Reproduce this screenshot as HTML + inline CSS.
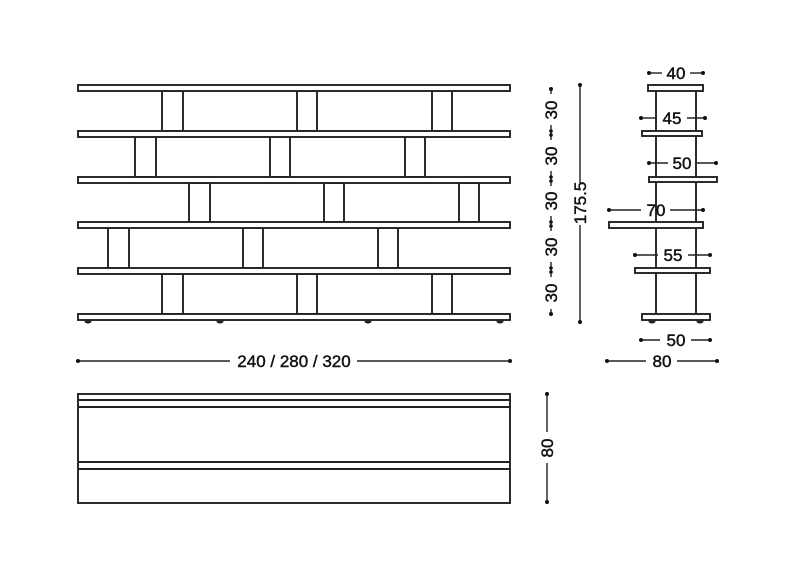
<!DOCTYPE html>
<html><head><meta charset="utf-8"><style>
html,body{margin:0;padding:0;background:#fff;}
svg{display:block;}
text{font-family:"Liberation Sans",Arial,sans-serif;font-size:17px;fill:#111;stroke:#111;stroke-width:0.45;}
</style></head><body>
<svg width="800" height="566" viewBox="0 0 800 566" xmlns="http://www.w3.org/2000/svg">
<g stroke="#222" stroke-width="1.9" fill="#fff">
<g>
<rect x="162" y="91" width="21" height="40"/><rect x="297" y="91" width="20" height="40"/><rect x="432" y="91" width="20" height="40"/>
<rect x="135" y="137" width="21" height="40"/><rect x="270" y="137" width="20" height="40"/><rect x="405" y="137" width="20" height="40"/>
<rect x="189" y="183" width="21" height="39"/><rect x="324" y="183" width="20" height="39"/><rect x="459" y="183" width="20" height="39"/>
<rect x="108" y="228" width="21" height="40"/><rect x="243" y="228" width="20" height="40"/><rect x="378" y="228" width="20" height="40"/>
<rect x="162" y="274" width="21" height="40"/><rect x="297" y="274" width="20" height="40"/><rect x="432" y="274" width="20" height="40"/>
</g>
<rect x="78" y="85" width="432" height="6"/>
<rect x="78" y="131" width="432" height="6"/>
<rect x="78" y="177" width="432" height="6"/>
<rect x="78" y="222" width="432" height="6"/>
<rect x="78" y="268" width="432" height="6"/>
<rect x="78" y="314" width="432" height="6"/>
</g>
<g fill="#222">
<ellipse cx="88" cy="321.5" rx="3.5" ry="2"/><ellipse cx="220" cy="321.5" rx="3.5" ry="2"/><ellipse cx="368" cy="321.5" rx="3.5" ry="2"/><ellipse cx="500" cy="321.5" rx="3.5" ry="2"/>
<ellipse cx="652" cy="321.5" rx="3.5" ry="2"/><ellipse cx="700" cy="321.5" rx="3.5" ry="2"/>
</g>
<g stroke="#222" stroke-width="1.9" fill="#fff">
<line x1="656" y1="91" x2="656" y2="314"/><line x1="696" y1="91" x2="696" y2="314"/>
<rect x="648" y="85" width="55" height="6"/>
<rect x="642" y="131" width="60" height="5"/>
<rect x="649" y="177" width="68" height="5"/>
<rect x="609" y="222" width="94" height="6"/>
<rect x="635" y="268" width="75" height="5"/>
<rect x="642" y="314" width="68" height="6"/>
</g>
<g stroke="#222" stroke-width="1.9" fill="none">
<rect x="78" y="394" width="432" height="109" fill="#fff"/>
<line x1="78" y1="400" x2="510" y2="400"/>
<line x1="78" y1="407" x2="510" y2="407"/>
<line x1="78" y1="462" x2="510" y2="462"/>
<line x1="78" y1="469" x2="510" y2="469"/>
</g>
<g stroke="#222" stroke-width="1.4">
<line x1="78" y1="361" x2="230" y2="361"/><line x1="357" y1="361" x2="510" y2="361"/>
<line x1="649" y1="73" x2="662" y2="73"/><line x1="690" y1="73" x2="703" y2="73"/>
<line x1="641" y1="118" x2="657" y2="118"/><line x1="687" y1="118" x2="705" y2="118"/>
<line x1="649" y1="163" x2="668" y2="163"/><line x1="697" y1="163" x2="716" y2="163"/>
<line x1="609" y1="210" x2="641" y2="210"/><line x1="670" y1="210" x2="703" y2="210"/>
<line x1="635" y1="255" x2="658" y2="255"/><line x1="688" y1="255" x2="710" y2="255"/>
<line x1="641" y1="340" x2="660" y2="340"/><line x1="691" y1="340" x2="710" y2="340"/>
<line x1="607" y1="361" x2="646" y2="361"/><line x1="677" y1="361" x2="717" y2="361"/>
<line x1="580" y1="85" x2="580" y2="183"/><line x1="580" y1="225" x2="580" y2="322"/>
<line x1="547" y1="394" x2="547" y2="432"/><line x1="547" y1="463" x2="547" y2="502"/>
<line x1="551" y1="89" x2="551" y2="94"/><line x1="551" y1="125" x2="551" y2="140"/>
<line x1="551" y1="171" x2="551" y2="186"/><line x1="551" y1="216" x2="551" y2="231"/>
<line x1="551" y1="262" x2="551" y2="277"/><line x1="551" y1="309" x2="551" y2="314"/>
</g>
<g fill="#111">
<circle cx="78" cy="361" r="2"/><circle cx="510" cy="361" r="2"/>
<circle cx="649" cy="73" r="2"/><circle cx="703" cy="73" r="2"/>
<circle cx="641" cy="118" r="2"/><circle cx="705" cy="118" r="2"/>
<circle cx="649" cy="163" r="2"/><circle cx="716" cy="163" r="2"/>
<circle cx="609" cy="210" r="2"/><circle cx="703" cy="210" r="2"/>
<circle cx="635" cy="255" r="2"/><circle cx="710" cy="255" r="2"/>
<circle cx="641" cy="340" r="2"/><circle cx="710" cy="340" r="2"/>
<circle cx="607" cy="361" r="2"/><circle cx="717" cy="361" r="2"/>
<circle cx="580" cy="85" r="2"/><circle cx="580" cy="322" r="2"/>
<circle cx="547" cy="394" r="2"/><circle cx="547" cy="502" r="2"/>
<circle cx="551" cy="89" r="2"/><circle cx="551" cy="131" r="1.8"/><circle cx="551" cy="135" r="1.8"/>
<circle cx="551" cy="177" r="1.8"/><circle cx="551" cy="181" r="1.8"/>
<circle cx="551" cy="222" r="1.8"/><circle cx="551" cy="226" r="1.8"/>
<circle cx="551" cy="268" r="1.8"/><circle cx="551" cy="272" r="1.8"/>
<circle cx="551" cy="314" r="2"/>
</g>
<g text-anchor="middle">
<text x="294" y="367">240 / 280 / 320</text>
<text x="676" y="79">40</text>
<text x="672" y="124">45</text>
<text x="682" y="169">50</text>
<text x="656" y="216">70</text>
<text x="673" y="261">55</text>
<text x="676" y="346">50</text>
<text x="662" y="367">80</text>
<text transform="translate(586,203) rotate(-90)">175.5</text>
<text transform="translate(553,448) rotate(-90)">80</text>
<text transform="translate(557,110) rotate(-90)">30</text>
<text transform="translate(557,156) rotate(-90)">30</text>
<text transform="translate(557,201) rotate(-90)">30</text>
<text transform="translate(557,247) rotate(-90)">30</text>
<text transform="translate(557,293) rotate(-90)">30</text>
</g>
</svg>
</body></html>
